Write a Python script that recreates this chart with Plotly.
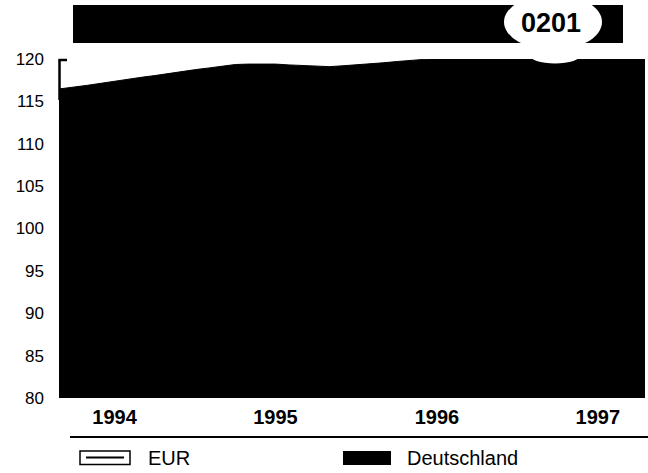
import plotly.graph_objects as go

# ---- data ----
months = [
    "1994-02-01", "1994-03-01", "1994-04-01", "1994-05-01", "1994-06-01", "1994-07-01",
    "1994-08-01", "1994-09-01", "1994-10-01", "1994-11-01", "1994-12-01",
    "1995-01-01", "1995-02-01", "1995-03-01", "1995-04-01", "1995-05-01", "1995-06-01",
    "1995-07-01", "1995-08-01", "1995-09-01", "1995-10-01", "1995-11-01", "1995-12-01",
    "1996-01-01", "1996-02-01", "1996-03-01", "1996-04-01", "1996-05-01", "1996-06-01",
    "1996-07-01", "1996-08-01", "1996-09-01", "1996-10-01", "1996-11-01", "1996-12-01",
    "1997-01-01", "1997-02-01", "1997-03-01", "1997-04-01", "1997-05-01", "1997-06-01",
    "1997-07-01", "1997-08-01", "1997-09-01", "1997-10-01", "1997-11-01",
]
deutschland = [
    116.3, 116.45, 116.7, 116.9, 117.15, 117.4,
    117.6, 117.85, 118.05, 118.3, 118.5,
    118.75, 118.95, 119.15, 119.35, 119.4, 119.4,
    119.4, 119.3, 119.25, 119.15, 119.1, 119.2,
    119.3, 119.4, 119.55, 119.7, 119.8, 119.95,
    120.1, 120.3, 120.5, 120.6, 120.8, 121.0,
    121.1, 121.2, 121.3, 121.4, 121.5, 121.6,
    121.7, 121.8, 121.9, 122.0, 122.1,
]
year_ticks = ["1994-07-01", "1995-07-01", "1996-07-01", "1997-07-01"]
year_labels = ["1994", "1995", "1996", "1997"]
y_ticks = [80, 85, 90, 95, 100, 105, 110, 115, 120]
legend_names = ["EUR", "Deutschland"]
title_code = "0201"

W, H = 648, 473
L, R, T, B = 59, 3, 59, 75
PW, PH = W - L - R, H - T - B


def px(x):
    return (x - L) / PW


def py(y):
    return (H - B - y) / PH


FONT = "Liberation Sans, Arial, Helvetica, sans-serif"

fig = go.Figure()
fig.add_trace(go.Scatter(
    x=months, y=deutschland, mode="lines", fill="tozeroy",
    line=dict(color="black", width=1), fillcolor="black",
    name=legend_names[1], showlegend=False, hoverinfo="skip",
))

shapes = [
    # title bar
    dict(type="rect", xref="paper", yref="paper", x0=px(73), x1=px(623), y0=py(43), y1=py(5),
         fillcolor="black", line=dict(width=0)),
    # white rounded badge
    dict(type="circle", xref="paper", yref="paper", x0=px(504), x1=px(602), y0=py(50), y1=py(-6),
         fillcolor="white", line=dict(width=0)),
    # bump into plot
    dict(type="circle", xref="paper", yref="paper", x0=px(529), x1=px(581), y0=py(63.5), y1=py(46),
         fillcolor="white", line=dict(width=0), layer="above"),
    # left bracket
    dict(type="line", xref="paper", yref="paper", x0=px(59.5), x1=px(59.5), y0=py(59.5), y1=py(100),
         line=dict(color="black", width=2.5)),
    dict(type="line", xref="paper", yref="paper", x0=px(58.5), x1=px(67), y0=py(60), y1=py(60),
         line=dict(color="black", width=2.5)),
    # separator line
    dict(type="line", xref="paper", yref="paper", x0=px(70), x1=px(648), y0=py(437), y1=py(437),
         line=dict(color="black", width=2)),
    # legend EUR symbol
    dict(type="rect", xref="paper", yref="paper", x0=px(80), x1=px(130), y0=py(464.5), y1=py(451),
         fillcolor="white", line=dict(color="black", width=1.5)),
    dict(type="line", xref="paper", yref="paper", x0=px(86), x1=px(124), y0=py(457.5), y1=py(457.5),
         line=dict(color="black", width=2)),
    # legend Deutschland symbol
    dict(type="rect", xref="paper", yref="paper", x0=px(343), x1=px(391), y0=py(465), y1=py(451),
         fillcolor="black", line=dict(width=0)),
]

annotations = [
    dict(text="<b>" + title_code + "</b>", xref="paper", yref="paper", x=px(551), y=py(23),
         xanchor="center", yanchor="middle", showarrow=False,
         font=dict(family=FONT, size=27, color="black")),
    dict(text=legend_names[0], xref="paper", yref="paper", x=px(146), y=py(458),
         xanchor="left", yanchor="middle", showarrow=False,
         font=dict(family=FONT, size=20, color="black")),
    dict(text=legend_names[1], xref="paper", yref="paper", x=px(405), y=py(458),
         xanchor="left", yanchor="middle", showarrow=False,
         font=dict(family=FONT, size=20, color="black")),
]

fig.update_layout(
    width=W, height=H,
    margin=dict(l=L, r=R, t=T, b=B, pad=0),
    paper_bgcolor="white", plot_bgcolor="white",
    showlegend=False,
    shapes=shapes, annotations=annotations,
    font=dict(family=FONT, color="black"),
    xaxis=dict(
        type="date", range=["1994-02-25", "1997-10-16"],
        tickvals=year_ticks, ticktext=["<b>" + t + "</b>" for t in year_labels],
        tickfont=dict(family=FONT, size=20, color="black"),
        showgrid=False, zeroline=False, showline=False, ticks="",
        ticklabelstandoff=5,
    ),
    yaxis=dict(
        range=[80, 120], tickvals=y_ticks,
        tickfont=dict(family=FONT, size=17, color="black"),
        showgrid=False, zeroline=False, showline=False, ticks="",
        ticklabelstandoff=14,
    ),
)

fig.write_html(
    "out.html",
    config={"displayModeBar": False},
    post_script="document.body.style.margin='0';document.body.style.overflow='hidden';",
)
